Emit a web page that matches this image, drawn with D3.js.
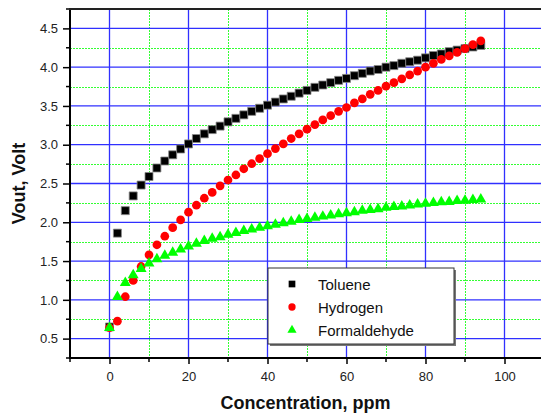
<!DOCTYPE html>
<html lang="en">
<head>
    <meta charset="UTF-8">
    <title>Vout vs Concentration</title>
    <script src="https://d3js.org/d3.v7.min.js"></script>
    <style>
        body { margin: 0; background: #fff; }
        svg { display: block; }
        text { font-family: "Liberation Sans", Arial, sans-serif; }
    </style>
</head>
<body>
    <div id="chart"></div>
    <script>
        // Data
        const conc = d3.range(0, 95, 2); // 0, 2, ... 94 ppm
        const toluene = [0.65, 1.86, 2.15, 2.34, 2.48, 2.59, 2.70, 2.79, 2.87, 2.945,
            3.01, 3.08, 3.14, 3.195, 3.24, 3.295, 3.34, 3.385, 3.43, 3.47,
            3.51, 3.55, 3.59, 3.625, 3.665, 3.70, 3.74, 3.77, 3.80, 3.83,
            3.855, 3.89, 3.92, 3.95, 3.97, 4.00, 4.02, 4.05, 4.07, 4.09,
            4.12, 4.15, 4.17, 4.20, 4.22, 4.24, 4.26, 4.28];
        const hydrogen = [0.64, 0.725, 1.04, 1.25, 1.43, 1.58, 1.71, 1.82, 1.93, 2.03,
            2.13, 2.22, 2.31, 2.385, 2.47, 2.545, 2.61, 2.69, 2.755, 2.82,
            2.885, 2.95, 3.01, 3.08, 3.14, 3.20, 3.26, 3.32, 3.375, 3.43,
            3.48, 3.54, 3.59, 3.65, 3.70, 3.755, 3.80, 3.85, 3.90, 3.95,
            4.00, 4.05, 4.10, 4.145, 4.19, 4.24, 4.29, 4.34];
        const formaldehyde = [0.64, 1.04, 1.22, 1.32, 1.40, 1.47, 1.525, 1.57, 1.61, 1.65,
            1.69, 1.725, 1.76, 1.79, 1.81, 1.84, 1.865, 1.89, 1.91, 1.93,
            1.95, 1.97, 1.99, 2.01, 2.03, 2.045, 2.06, 2.075, 2.09, 2.105,
            2.12, 2.13, 2.15, 2.16, 2.17, 2.19, 2.20, 2.205, 2.22, 2.23,
            2.24, 2.25, 2.26, 2.265, 2.275, 2.28, 2.29, 2.295];

        const xMajor = [0, 20, 40, 60, 80, 100];
        const xMinor = [-10, 10, 30, 50, 70, 90, 110];
        const yMajor = [0.5, 1.0, 1.5, 2.0, 2.5, 3.0, 3.5, 4.0, 4.5];
        const yMinor = [0.25, 0.75, 1.25, 1.75, 2.25, 2.75, 3.25, 3.75, 4.25, 4.75];

        const seriesNames = ['Toluene', 'Hydrogen', 'Formaldehyde'];
        const seriesColors = ['#000000', '#ff0000', '#00ff00'];
        const seriesValues = [toluene, hydrogen, formaldehyde];

        const width = 541, height = 416;
        const margin = { left: 70, top: 9, right: -3, bottom: 58 };

        const svg = d3.select('#chart').append('svg')
            .attr('width', width)
            .attr('height', height);

        const x = d3.scaleLinear().domain([-10, 110]).range([margin.left, width - margin.right]);
        const y = d3.scaleLinear().domain([0.25, 4.75]).range([height - margin.bottom, margin.top]);

        const x0 = x.range()[0], x1 = x.range()[1];
        const y0 = y.range()[0], y1 = y.range()[1];

        // grid: green dotted minors, blue solid majors
        const grid = svg.append('g');
        grid.selectAll('.gxm').data(xMinor).enter().append('line')
            .attr('x1', d => Math.round(x(d)) + 0.5).attr('x2', d => Math.round(x(d)) + 0.5)
            .attr('y1', y1).attr('y2', y0)
            .attr('stroke', '#33ff33').attr('stroke-width', 1).attr('stroke-dasharray', '2,1')
            .attr('shape-rendering', 'crispEdges');
        grid.selectAll('.gym').data(yMinor).enter().append('line')
            .attr('x1', x0).attr('x2', x1)
            .attr('y1', d => Math.round(y(d)) + 0.5).attr('y2', d => Math.round(y(d)) + 0.5)
            .attr('stroke', '#33ff33').attr('stroke-width', 1).attr('stroke-dasharray', '2,1')
            .attr('shape-rendering', 'crispEdges');
        grid.selectAll('.gx').data(xMajor).enter().append('line')
            .attr('x1', d => x(d)).attr('x2', d => x(d))
            .attr('y1', y1).attr('y2', y0)
            .attr('stroke', '#3030ff').attr('stroke-width', 1.3);
        grid.selectAll('.gy').data(yMajor).enter().append('line')
            .attr('x1', x0).attr('x2', x1)
            .attr('y1', d => y(d)).attr('y2', d => y(d))
            .attr('stroke', '#3030ff').attr('stroke-width', 1.3);

        // axes
        const xAxis = d3.axisBottom(x).tickValues(xMajor).tickSize(6).tickPadding(8).tickFormat(d3.format('d'));
        const yAxis = d3.axisLeft(y).tickValues(yMajor).tickSize(7).tickPadding(5).tickFormat(d3.format('.1f'));

        const gx = svg.append('g').attr('transform', `translate(0,${y0})`).call(xAxis);
        const gy = svg.append('g').attr('transform', `translate(${x0},0)`).call(yAxis);
        [gx, gy].forEach(g => {
            g.select('.domain').remove();
            g.selectAll('line').attr('stroke', '#000').attr('stroke-width', 1.5);
            g.selectAll('text').attr('font-size', 13).attr('fill', '#222');
        });
        // minor ticks
        svg.append('g').selectAll('line').data(xMinor).enter().append('line')
            .attr('x1', d => x(d)).attr('x2', d => x(d))
            .attr('y1', y0).attr('y2', y0 + 4)
            .attr('stroke', '#000').attr('stroke-width', 1.5);
        svg.append('g').selectAll('line').data(yMinor).enter().append('line')
            .attr('x1', x0 - 4).attr('x2', x0)
            .attr('y1', d => y(d)).attr('y2', d => y(d))
            .attr('stroke', '#000').attr('stroke-width', 1.5);

        // frame lines
        svg.append('line').attr('x1', x0).attr('x2', x0).attr('y1', y1 - 1).attr('y2', y0 + 1)
            .attr('stroke', '#000').attr('stroke-width', 2);
        svg.append('line').attr('x1', x0 - 1).attr('x2', width).attr('y1', y0).attr('y2', y0)
            .attr('stroke', '#000').attr('stroke-width', 2);
        svg.append('line').attr('x1', x0 - 1).attr('x2', width).attr('y1', y1).attr('y2', y1)
            .attr('stroke', '#222').attr('stroke-width', 2);

        // axis titles
        svg.append('text')
            .attr('x', (x0 + 541) / 2 + 0).attr('y', 409)
            .attr('text-anchor', 'middle').attr('font-size', 18).attr('font-weight', 'bold')
            .attr('fill', '#111')
            .text('Concentration, ppm');
        svg.append('text')
            .attr('transform', `translate(25,${(y0 + y1) / 2}) rotate(-90)`)
            .attr('text-anchor', 'middle').attr('font-size', 18).attr('font-weight', 'bold')
            .attr('fill', '#111')
            .text('Vout, Volt');

        // markers
        const symbols = [d3.symbolSquare, d3.symbolCircle, d3.symbolTriangle];
        const sizes = [64, 60, 52];
        const plot = svg.append('g');
        seriesValues.forEach((vals, i) => {
            plot.append('g').selectAll('path')
                .data(vals.map((v, j) => [conc[j], v]))
                .enter().append('path')
                .attr('transform', d => `translate(${x(d[0])},${y(d[1])})`)
                .attr('d', d3.symbol().type(symbols[i]).size(sizes[i]))
                .attr('fill', seriesColors[i])
                .attr('stroke', i === 0 ? '#888' : 'none')
                .attr('stroke-width', 0.8);
        });

        // legend
        const lg = svg.append('g').attr('transform', 'translate(268,268)');
        lg.append('rect').attr('x', 2).attr('y', 2).attr('width', 186).attr('height', 76).attr('fill', '#777');
        lg.append('rect').attr('x', 0).attr('y', 0).attr('width', 186).attr('height', 76)
            .attr('fill', '#fff').attr('stroke', '#333').attr('stroke-width', 1);
        seriesNames.forEach((name, i) => {
            const cy = 16 + i * 23;
            lg.append('path')
                .attr('transform', `translate(24,${cy})`)
                .attr('d', d3.symbol().type(symbols[i]).size(sizes[i] * 0.7))
                .attr('fill', seriesColors[i]);
            lg.append('text').attr('x', 50).attr('y', cy + 5.5)
                .attr('font-size', 15).attr('fill', '#111').text(name);
        });
    </script>
</body>
</html>
